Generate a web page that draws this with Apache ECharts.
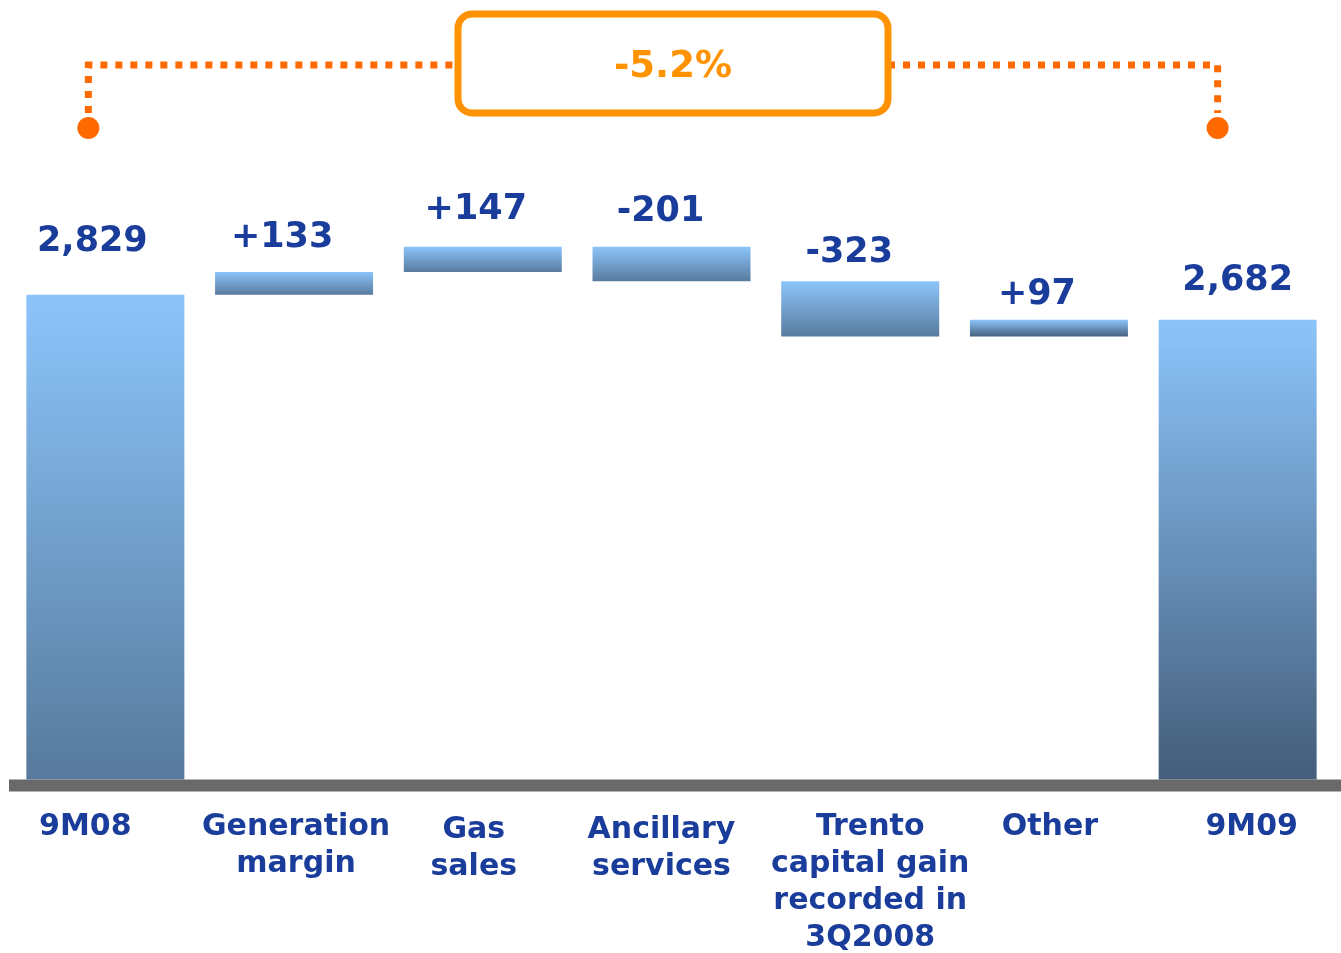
<!DOCTYPE html>
<html>
<head>
<meta charset="utf-8">
<script src="https://cdn.jsdelivr.net/npm/echarts@6/dist/echarts.min.js"></script>
<style>
  html, body { margin: 0; padding: 0; background: #fff; }
  #main { width: 1341px; height: 953px; }
</style>
</head>
<body>
<div id="main"></div>
<script>
// data
var categories = ['9M08', 'Generation\nmargin', 'Gas\nsales', 'Ancillary\nservices',
  'Trento\ncapital gain\nrecorded in\n3Q2008', 'Other', '9M09'];
var changes = [2829, 133, 147, -201, -323, 97, 2682];   // first/last are totals
var valueLabels = ['2,829', '+133', '+147', '-201', '-323', '+97', '2,682'];
var changePct = '-5.2%';

// waterfall: transparent base + visible step
var base = [], step = [];
var running = 0;
changes.forEach(function (v, i) {
  if (i === 0 || i === changes.length - 1) {
    base.push(0); step.push(v); running = v;
  } else if (v >= 0) {
    base.push(running); step.push(v); running += v;
  } else {
    running += v; base.push(running); step.push(-v);
  }
});

var blue = '#1a3d9c';
function grad(bottom) {
  return new echarts.graphic.LinearGradient(0, 0, 0, 1, [
    { offset: 0, color: '#8cc5fb' },
    { offset: 1, color: bottom }
  ]);
}
var bottoms = ['#577a9c', '#587b9e', '#587b9e', '#587b9e', '#587b9e', '#46607e', '#445d7a'];

// small label tweaks to sit like the slide
var nudge = [[-13, -30], [-12, -11], [-7, -14], [-11, -12], [-11, -6], [-12, -2], [0, -16]];
var catShift = [-20, 2, -9, -10, 10, 1, 14];
var catDrop = [0, 0, 6, 6, 0, 0, 0];

var rich = {};
catShift.forEach(function (s, i) {
  rich['c' + i] = {
    fontFamily: 'DejaVu Sans', fontWeight: 'bold', fontSize: 30, lineHeight: 37, color: blue,
    padding: s < 0 ? [catDrop[i], -2 * s, 0, 0] : [catDrop[i], 0, 0, 2 * s]
  };
});

var myChart = echarts.init(document.getElementById('main'));
myChart.setOption({
  animation: false,
  grid: { left: 11, right: 9, top: 94, bottom: 166 },
  xAxis: {
    type: 'category',
    data: categories,
    axisLine: { show: false },
    axisTick: { show: false },
    axisLabel: {
      interval: 0,
      margin: 29,
      verticalAlign: 'top',
      formatter: function (val, idx) {
        return val.split('\n').map(function (l) { return '{c' + idx + '|' + l + '}'; }).join('\n');
      },
      rich: rich
    }
  },
  yAxis: { type: 'value', min: 0, max: 4000, show: false, splitLine: { show: false } },
  series: [{
    type: 'bar',
    stack: 'w',
    barWidth: 158,
    silent: true,
    itemStyle: { color: 'transparent' },
    data: base
  }, {
    type: 'bar',
    stack: 'w',
    barWidth: 158,
    data: step.map(function (v, i) {
      return {
        value: v,
        itemStyle: { color: grad(bottoms[i]) },
        label: { offset: nudge[i] }
      };
    }),
    label: {
      show: true,
      position: 'top',
      fontFamily: 'DejaVu Sans',
      fontWeight: 'bold',
      fontSize: 35,
      color: blue,
      formatter: function (p) { return valueLabels[p.dataIndex]; }
    }
  }]
});

// baseline bar and the -5.2% bracket
var first = myChart.convertToPixel({ xAxisIndex: 0 }, 0) - 17;
var last = myChart.convertToPixel({ xAxisIndex: 0 }, categories.length - 1) - 20;
var zeroY = myChart.convertToPixel({ yAxisIndex: 0 }, 0);
var dash = { stroke: '#ff6a00', lineWidth: 7, lineDash: [7, 8] };
myChart.setOption({
  graphic: [
    { type: 'rect', shape: { x: 9, y: zeroY, width: 1332, height: 12 }, style: { fill: '#696969' } },
    { type: 'polyline', shape: { points: [[first, 113], [first, 65], [458, 65]] }, style: dash },
    { type: 'polyline', shape: { points: [[888, 65], [last, 65], [last, 113]] }, style: dash },
    { type: 'circle', shape: { cx: first, cy: 128, r: 11 }, style: { fill: '#ff6a00' } },
    { type: 'circle', shape: { cx: last, cy: 128, r: 11 }, style: { fill: '#ff6a00' } },
    { type: 'rect', shape: { x: 458, y: 14, width: 430, height: 99, r: 14 },
      style: { fill: '#fff', stroke: '#ff9200', lineWidth: 7 } },
    { type: 'text', x: 673, y: 67,
      style: { text: changePct, fill: '#ff9200', font: 'bold 37px "DejaVu Sans"', align: 'center', verticalAlign: 'middle' } }
  ]
});
</script>
</body>
</html>
